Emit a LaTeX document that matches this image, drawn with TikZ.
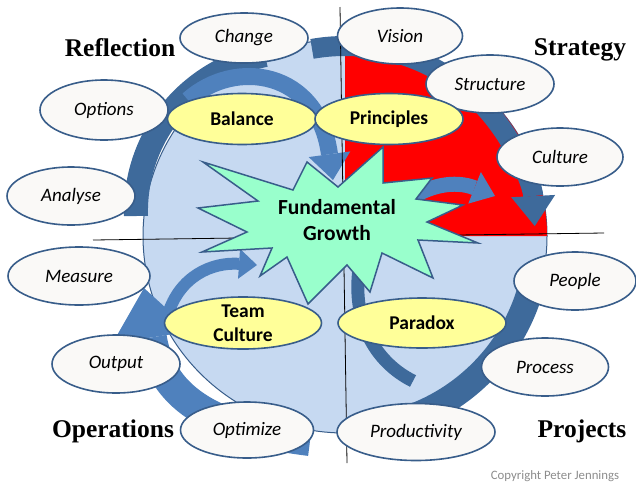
\documentclass[tikz,border=0pt]{standalone}
\usepackage{fontspec}
\setmainfont{Carlito}
\newfontfamily\titlefont{Liberation Serif}
\usepackage{tikz}
\usetikzlibrary{shapes.geometric}
\usetikzlibrary{arrows.meta}

\definecolor{circfill}{RGB}{198,217,241}
\definecolor{rimblue}{RGB}{62,106,155}
\definecolor{arrowblue}{RGB}{79,129,189}
\definecolor{edgeblue}{RGB}{56,93,138}
\definecolor{mint}{RGB}{153,255,204}
\definecolor{paleyellow}{RGB}{255,255,153}
\definecolor{offwhite}{RGB}{250,249,247}
\definecolor{copygray}{RGB}{140,140,140}

\tikzset{
    idea/.style={shape=ellipse, draw=edgeblue, line width=1.6pt, fill=offwhite, inner sep=0pt,
        minimum width=128pt, minimum height=58pt, font=\fontsize{19}{22}\selectfont\itshape},
    theme/.style={shape=ellipse, draw=edgeblue, line width=1.6pt, fill=paleyellow, inner sep=0pt,
        align=center, minimum width=150pt, minimum height=51pt, font=\fontsize{19.5}{24}\selectfont\bfseries},
    corner/.style={inner sep=0pt, font=\titlefont\fontsize{25.5}{28}\selectfont\bfseries},
    rim/.style={draw=rimblue, line width=#1},
    sweep/.style={draw=arrowblue, line width=#1}}

\begin{document}
\begin{tikzpicture}[x=1pt, y=-1pt]
                
                    \useasboundingbox (0,0) rectangle (636,483);

                    % circle and red quarter
                    \filldraw[fill=circfill, draw=edgeblue, line width=1pt] (345,236) ellipse [x radius=202, y radius=197];
                    \fill[red] (345,236) -- (547,236) arc[start angle=0, end angle=-90, x radius=202, y radius=197] -- cycle;

                    % cycle arrows
                    \draw[rim=24pt] (136,216) .. controls (134,140) and (185,72) .. (265,55);
                    \draw[sweep=17pt, -{Triangle[length=26pt, width=42pt, line width=0pt]}] (188,100) .. controls (235,58) and (318,70) .. (333,180);
                    \draw[rim=20pt, -{Triangle[length=30pt, width=44pt, line width=0pt]}] ([shift={(345,236)}]-100:190) arc[start angle=-100, end angle=-3, radius=190];
                    \draw[sweep=15pt, -{Triangle[length=22pt, width=34pt, line width=0pt]}] (405,202) .. controls (428,185) and (455,180) .. (495,196);
                    \draw[rim=26pt] ([shift={(345,236)}]12:193) arc[start angle=12, end angle=75, radius=193];
                    \draw[rim=13pt] (360,262) .. controls (350,320) and (375,362) .. (413,381);
                    \draw[sweep=30pt, -{Triangle[length=50pt, width=80pt, line width=0pt]}] (310,441) .. controls (220,430) and (162,402) .. (144,288);
                    \draw[sweep=12pt, -{Triangle[length=18pt, width=30pt, line width=0pt]}] (168,314) .. controls (180,276) and (212,262) .. (257,265);

                    \coordinate (vtop) at (340,7);
                    \coordinate (vbot) at (347,463);
                    \coordinate (hleft) at (93,240);
                    \coordinate (hright) at (604,233);
                    \draw[line width=0.8pt] (vtop) -- (vbot);
                    \draw[line width=0.8pt] (hleft) -- (hright);

                    % starburst
                    \filldraw[fill=mint, draw=edgeblue, line width=1.5pt] (203,162) -- (293,190) -- (307,162) -- (338,187) -- (383,147) -- (383,183) -- (432,178) -- (416,199) -- (463,205) -- (427,222) -- (478,243) -- (418,240) -- (433,278) -- (382,253) -- (370,292) -- (347,265) -- (308,304) -- (287,257) -- (260,276) -- (272,248) -- (202,252) -- (247,232) -- (198,208) -- (258,201) -- cycle;
                    \node[align=center, font=\fontsize{21.5}{26}\selectfont\bfseries] (growth) at (337,220) {Fundamental\\Growth};

                    \node[idea, minimum height=50pt] (change) at (244,38) {Change};
                    \node[idea, minimum width=125pt, minimum height=56pt] (vision) at (400,36) {Vision};
                    \node[idea] (structure) at (490,84) {Structure};
                    \node[idea, minimum width=126pt] (culture) at (560,157) {Culture};
                    \node[idea, minimum height=60pt] (options) at (104,110) {Options};
                    \node[idea] (analyse) at (71,196) {Analyse};
                    \node[idea, minimum width=142pt] (measure) at (79,276) {Measure};
                    \node[idea] (output) at (116,364) {Output};
                    \node[idea, minimum width=133pt, minimum height=56pt] (optimize) at (247,430) {Optimize};
                    \node[idea, minimum width=158pt, minimum height=57pt] (productivity) at (416,432) {Productivity};
                    \node[idea, minimum width=127pt] (process) at (545,367) {Process};
                    \node[idea, minimum width=122pt] (people) at (575,281) {People};

                    \node[theme, minimum width=149pt] (balance) at (242,119) {Balance};
                    \node[theme, minimum width=148pt] (principles) at (389,119) {Principles};
                    \node[theme, minimum width=157pt, minimum height=50pt] (teamculture) at (243,323) {Team\\Culture};
                    \node[theme, minimum width=168pt, minimum height=50pt] (paradox) at (422,323) {Paradox};

                    \node[corner] (reflection) at (120,48) {Reflection};
                    \node[corner] (strategy) at (580,50) {Strategy};
                    \node[corner] (operations) at (113,431) {Operations};
                    \node[corner] (projects) at (582,431) {Projects};
                    \node[text=copygray, font=\fontsize{12.8}{14}\selectfont] (copyright) at (555,476) {Copyright Peter Jennings};
            
                \end{tikzpicture}
\end{document}
